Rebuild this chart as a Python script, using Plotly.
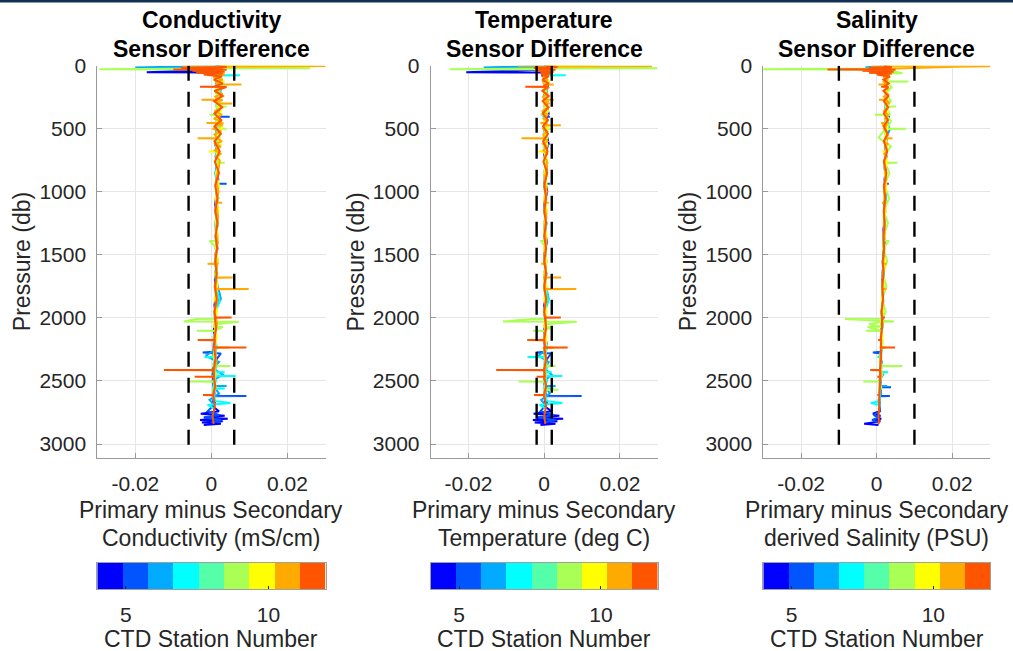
import plotly.graph_objects as go

# ---------------- data ----------------
STATIONS = [4, 5, 6, 7, 8, 9, 10, 11, 12]
STATION_COLORS = ["#0000FF", "#0055FF", "#00AAFF", "#00FFFF", "#55FFAA",
                  "#AAFF55", "#FFFF00", "#FFAA00", "#FF5500"]
CBAR_RANGE = [4, 12]
CBAR_TICKS = [5, 10]

# pressure (db) per station, and primary-minus-secondary differences
P4 = [0, 10, 30, 52, 54, 80, 120, 170, 230, 300, 380, 460, 540, 620, 700, 800, 900, 1000, 1100, 1200,
      1300, 1400, 1500, 1600, 1700, 1800, 1900, 2000, 2100, 2200, 2300, 2400, 2500, 2600, 2700, 2740,
      2760, 2775, 2790, 2800, 2810, 2820, 2830, 2840, 2850]
C4 = [0.002, 0.001, 0.002, -0.017, 0.001, 0.002, 0.0012, 0.002, 0.0025, 0.0015, 0.002, 0.0012, 0.0018,
      0.001, 0.0016, 0.0012, 0.0018, 0.0014, 0.001, 0.0016, 0.0012, 0.0015, 0.0011, 0.0014, 0.0009,
      0.0013, 0.0008, 0.0012, 0.0006, 0.001, 0.0005, 0.0009, 0.0004, 0.0008, 0.0003, 0.002, -0.0028,
      0.0035, -0.002, 0.0043, -0.003, 0.003, -0.0025, 0.0025, -0.002]
T4 = [0.0005, 0.0, 0.001, -0.0206, 0.0005, -0.0005, 0.0008, 0.001, 0.0, 0.0006, 0.0012, 0.0, 0.0005,
      0.0012, 0.0, 0.0006, 0.0003, 0.0008, 0.0, 0.0005, 0.0002, 0.0007, 0.0, 0.0005, 0.0002, 0.0006,
      0.0, 0.0004, 0.0, 0.0006, 0.0001, 0.0005, 0.0, 0.0004, 0.0, 0.002, -0.0028, 0.004, -0.002, 0.005,
      -0.003, 0.0035, -0.0025, 0.003, -0.001]
S4 = [0.002, 0.0025, 0.003, 0.001, 0.0025, 0.003, 0.0025, 0.0028, 0.0024, 0.0027, 0.0023, 0.0028, 0.0024,
      0.0026, 0.0022, 0.0025, 0.0021, 0.0024, 0.002, 0.0022, 0.0018, 0.0021, 0.0017, 0.0019, 0.0015,
      0.0018, 0.0014, 0.0016, 0.0012, 0.0014, 0.001, 0.0012, 0.0008, 0.001, 0.0006, 0.0008, -0.001,
      0.001, 0.0, 0.0012, -0.0005, 0.001, -0.001, -0.0033, 0.0005]

P5 = [0, 6, 20, 45, 75, 110, 160, 210, 270, 330, 403, 405, 407, 480, 560, 640, 720, 810, 935, 937, 939,
      1050, 1150, 1250, 1350, 1450, 1550, 1650, 1750, 1850, 1950, 2050, 2150, 2268, 2275, 2282, 2350,
      2450, 2548, 2550, 2552, 2617, 2619, 2621, 2680, 2740, 2770, 2790, 2810, 2830]
C5 = [0.001, 0.002, 0.0015, 0.0025, 0.001, 0.002, 0.0012, 0.0022, 0.0014, 0.0021, 0.0015, 0.0048, 0.0015,
      0.0022, 0.0012, 0.0019, 0.0011, 0.0017, 0.0012, 0.004, 0.0012, 0.0018, 0.001, 0.0017, 0.0011,
      0.0016, 0.001, 0.0015, 0.0009, 0.0018, 0.0008, 0.0014, 0.0007, 0.0005, -0.0023, 0.0025, 0.0008,
      0.0003, 0.0006, 0.0012, 0.0006, 0.0005, 0.0092, 0.0005, 0.001, -0.001, 0.002, -0.0018, 0.0025, 0.0]
T5 = [0.0, 0.0008, 0.0, 0.001, 0.0, 0.0006, 0.0, 0.0007, 0.0001, 0.0006, 0.0, 0.0015, 0.0, 0.0006, 0.0,
      0.0005, 0.0001, 0.0007, 0.0, 0.0015, 0.0, 0.0005, 0.0, 0.0006, 0.0001, 0.0005, 0.0, 0.0006, 0.0,
      0.0007, 0.0, 0.0005, 0.0, 0.0002, -0.002, 0.0018, 0.0002, 0.0, 0.0002, 0.0008, 0.0001, 0.0, 0.0099,
      0.0, 0.0008, -0.001, 0.0025, -0.0015, 0.003, 0.0]
S5 = [0.002, 0.0022, 0.0028, 0.0024, 0.0029, 0.0023, 0.0027, 0.0024, 0.0028, 0.0023, 0.0026, 0.0035,
      0.0025, 0.0022, 0.0027, 0.0023, 0.0026, 0.0021, 0.0025, 0.0032, 0.0023, 0.0021, 0.0023, 0.0019,
      0.0021, 0.0017, 0.0019, 0.0015, 0.0018, 0.0014, 0.0016, 0.0012, 0.0014, 0.0011, -0.001, 0.0012,
      0.001, 0.0012, 0.001, 0.0038, 0.001, 0.0011, 0.0035, 0.0009, 0.0007, 0.0009, -0.0008, 0.0006,
      -0.0012, 0.0004]

P6 = [0, 15, 17, 35, 60, 95, 140, 190, 250, 310, 370, 440, 510, 590, 670, 760, 850, 950, 1050, 1150,
      1250, 1350, 1450, 1550, 1650, 1750, 1850, 1950, 2050, 2150, 2250, 2300, 2350, 2400, 2450, 2500,
      2538, 2540, 2542, 2600, 2650, 2700]
C6 = [0.002, -0.020, 0.0015, 0.0025, 0.001, 0.002, 0.0012, 0.0025, 0.0015, 0.0022, 0.001, 0.0025, 0.0012,
      0.002, 0.0012, 0.0018, 0.001, 0.0017, 0.0012, 0.0018, 0.001, 0.0016, 0.0011, 0.0017, 0.0009,
      0.0016, 0.0025, 0.0008, 0.0014, 0.0006, 0.0012, -0.0015, 0.002, 0.0004, 0.003, 0.0002, 0.0008,
      0.004, 0.0006, 0.002, -0.0005, 0.001]
T6 = [0.0005, -0.016, 0.0005, 0.0008, 0.0, 0.0006, 0.0, 0.0008, 0.0001, 0.0007, -0.0003, 0.0006, 0.0,
      0.0007, 0.0001, 0.0006, 0.0, 0.0005, 0.0001, 0.0006, 0.0, 0.0005, 0.0001, 0.0006, 0.0, 0.0005,
      0.0012, 0.0, 0.0005, 0.0, 0.0006, -0.0015, 0.0012, 0.0, 0.002, 0.0, 0.0004, 0.003, 0.0002, 0.0015,
      -0.0008, 0.0005]
S6 = [0.0018, -0.003, 0.0025, 0.0028, 0.0022, 0.0027, 0.0024, 0.0029, 0.0023, 0.0027, 0.0022, 0.0028,
      0.0034, 0.0024, 0.0026, 0.0021, 0.0025, 0.0021, 0.0024, 0.0019, 0.0022, 0.0018, 0.002, 0.0016,
      0.0019, 0.0015, 0.0017, 0.0013, 0.0016, 0.0011, 0.0014, 0.0008, 0.0014, 0.0009, 0.0017, 0.0007,
      0.001, 0.0028, 0.0009, 0.0012, 0.0005, 0.0008]

P7 = [0, 8, 40, 73, 75, 77, 110, 150, 200, 260, 320, 390, 460, 530, 610, 690, 780, 870, 970, 1070, 1170,
      1270, 1370, 1470, 1570, 1670, 1770, 1870, 1970, 2070, 2170, 2230, 2308, 2310, 2312, 2380, 2428,
      2430, 2432, 2458, 2460, 2462, 2500, 2558, 2560, 2562, 2620, 2660, 2675, 2690, 2720]
C7 = [0.0015, 0.002, 0.0025, 0.0015, 0.0075, 0.0015, 0.002, 0.0012, 0.0024, 0.0015, 0.0022, 0.0013,
      0.0021, 0.0012, 0.0019, 0.0011, 0.0017, 0.0011, 0.0018, 0.0012, 0.0017, 0.001, 0.0016, 0.0012,
      0.0015, 0.001, 0.0014, 0.0022, 0.0008, 0.0013, 0.0006, 0.0015, 0.0007, -0.0018, 0.0007, 0.0015,
      0.0006, 0.0035, 0.0007, 0.0008, 0.0064, 0.0005, 0.0012, 0.0006, 0.0035, 0.0005, 0.0003, 0.0012,
      0.005, -0.001, 0.0008]
T7 = [0.0003, 0.0008, 0.001, 0.0, 0.0057, 0.0, 0.0006, 0.0, 0.0007, 0.0001, 0.0006, -0.0004, 0.0006, 0.0,
      0.0007, 0.0001, 0.0006, 0.0, 0.0005, 0.0001, 0.0006, 0.0, 0.0005, 0.0001, 0.0005, 0.0, 0.0006,
      0.0011, 0.0, 0.0005, 0.0, 0.0008, 0.0, -0.0044, 0.0, 0.001, 0.0, 0.002, 0.0, 0.0002, 0.0048, 0.0,
      0.0008, 0.0, 0.0025, 0.0, 0.0, 0.0008, 0.0048, -0.0012, 0.0004]
S7 = [0.0015, 0.0025, 0.0029, 0.0024, 0.0035, 0.0026, 0.0023, 0.0028, 0.0024, 0.0028, 0.0023, 0.0027,
      0.0022, 0.0027, 0.0023, 0.0025, 0.0021, 0.0025, 0.002, 0.0023, 0.0019, 0.0022, 0.0018, 0.002,
      0.0016, 0.0019, 0.0015, 0.0018, 0.0013, 0.0016, 0.0011, 0.0014, 0.001, 0.0002, 0.001, 0.0012,
      0.0009, 0.003, 0.0009, 0.0009, 0.0012, 0.0008, 0.001, 0.0008, 0.0014, 0.0008, 0.0007, 0.0009,
      -0.0015, 0.0008, 0.0005]

P8 = [0, 12, 35, 65, 100, 145, 195, 255, 315, 385, 455, 525, 605, 685, 775, 865, 965, 1065, 1165, 1265,
      1365, 1465, 1565, 1665, 1765, 1865, 1965, 2065, 2165, 2265, 2365, 2465, 2565, 2650]
C8 = [0.002, 0.005, 0.001, 0.0022, 0.0012, 0.0024, 0.0013, 0.0022, 0.0012, 0.002, 0.0011, 0.0021, 0.0012,
      0.0018, 0.0011, 0.0017, 0.0011, 0.0016, 0.001, 0.0016, 0.0011, 0.0015, 0.0009, 0.0015, 0.0009,
      0.0014, 0.0007, 0.0013, 0.0006, 0.0012, 0.0005, 0.0011, 0.0004, 0.0009]
T8 = [0.0005, 0.004, 0.0, 0.0007, -0.0002, 0.0007, 0.0, 0.0006, 0.0, 0.0006, 0.0001, 0.0006, 0.0, 0.0005,
      0.0001, 0.0006, 0.0, 0.0005, 0.0001, 0.0005, 0.0, 0.0005, 0.0001, 0.0005, 0.0, 0.0005, 0.0001,
      0.0005, 0.0, 0.0005, 0.0, 0.0005, 0.0, 0.0004]
S8 = [0.002, 0.004, 0.0025, 0.0029, 0.0023, 0.0028, 0.0024, 0.0028, 0.0023, 0.0027, 0.0023, 0.0026,
      0.0022, 0.0025, 0.0021, 0.0024, 0.002, 0.0023, 0.0019, 0.0022, 0.0018, 0.002, 0.0016, 0.0019,
      0.0015, 0.0017, 0.0013, 0.0015, 0.0011, 0.0013, 0.0009, 0.0011, 0.0007, 0.0008]

P9 = [0, 20, 22, 28, 30, 45, 60, 62, 90, 123, 125, 127, 170, 220, 280, 321, 323, 325, 387, 389, 391, 440,
      498, 500, 502, 570, 640, 700, 768, 770, 772, 850, 950, 1050, 1150, 1250, 1350, 1388, 1390, 1450,
      1550, 1650, 1750, 1850, 1950, 2006, 2008, 2029, 2031, 2050, 2070, 2072, 2100, 2102, 2104, 2200,
      2300, 2379, 2381, 2383, 2450, 2503, 2505, 2507, 2550, 2568, 2570, 2572, 2600]
C9 = [0.002, 0.026, 0.001, -0.0295, 0.002, 0.001, 0.0025, 0.001, 0.002, 0.0012, 0.0035, 0.0014, 0.0025,
      0.0012, 0.0024, 0.0015, 0.004, 0.0013, 0.002, -0.0005, 0.0018, 0.0013, 0.0022, 0.004, 0.0015,
      0.0022, 0.0012, 0.0021, 0.0013, 0.0035, 0.0015, 0.0018, 0.0011, 0.0018, 0.001, 0.0017, 0.0011,
      0.0012, -0.0005, 0.0015, 0.001, 0.0016, 0.0009, 0.0015, 0.0008, 0.0012, -0.004, -0.0072, 0.0072,
      0.001, 0.0004, 0.003, 0.0008, -0.0038, 0.001, 0.0012, 0.0005, 0.0012, 0.005, 0.0008, 0.0012,
      0.0006, -0.006, 0.0008, 0.0012, 0.0008, 0.0012, 0.0008, 0.0004]
T9 = [0.0005, 0.03, 0.0, -0.025, 0.0005, 0.0, 0.001, 0.0, 0.0006, 0.0, 0.0015, 0.0, 0.0008, 0.0, 0.0007,
      0.0, 0.0015, 0.0, 0.0006, -0.001, 0.0005, 0.0, 0.0006, 0.0015, 0.0, 0.0008, -0.0002, 0.0007, 0.0,
      0.0012, 0.0, 0.0006, 0.0, 0.0006, 0.0, 0.0005, 0.0, 0.0003, -0.0008, 0.0005, 0.0, 0.0005, 0.0,
      0.0005, 0.0, 0.0004, -0.003, -0.0109, 0.0086, 0.0003, 0.0, 0.002, 0.0, -0.003, 0.0003, 0.0005,
      0.0, 0.0004, 0.003, 0.0, 0.0005, 0.0, -0.0068, 0.0, 0.0005, 0.0, 0.0038, 0.0, 0.0005]
S9 = [0.002, 0.003, 0.0025, -0.031, 0.002, 0.004, 0.0068, 0.0025, 0.0035, 0.0025, 0.0084, 0.0026, 0.004,
      0.0024, 0.0038, 0.0024, 0.0051, 0.0025, 0.0035, -0.0005, 0.0025, 0.0038, 0.0026, 0.0078, 0.0024,
      0.0005, 0.0038, 0.0022, 0.0024, 0.0055, 0.0023, 0.0034, 0.0021, 0.0033, 0.0019, 0.003, 0.0018,
      0.002, 0.0032, 0.0018, 0.0028, 0.0016, 0.0026, 0.0014, 0.0024, 0.0015, -0.0084, 0.0046, 0.0012,
      -0.002, 0.0013, -0.0024, 0.0012, -0.0028, 0.0013, 0.0016, 0.0009, 0.0011, 0.0068, 0.001, 0.0015,
      0.0008, -0.0035, 0.0008, 0.0012, 0.0009, 0.0011, 0.0008, 0.0006]

P10 = [0, 5, 7, 40, 80, 130, 180, 240, 300, 360, 420, 490, 560, 630, 678, 680, 682, 760, 850, 950, 1050,
       1150, 1250, 1350, 1450, 1550, 1650, 1750, 1850, 1950, 2050, 2150, 2250, 2300]
C10 = [0.002, 0.027, 0.0015, 0.0025, 0.0012, 0.003, 0.0012, 0.0028, 0.0015, 0.0025, 0.0012, 0.0028,
       0.0014, 0.0024, 0.0015, -0.0007, 0.0014, 0.0021, 0.0012, 0.002, 0.0011, 0.0019, 0.0011, 0.0017,
       0.0012, 0.0017, 0.001, 0.0016, 0.0009, 0.0015, 0.0008, 0.0014, 0.0007, 0.001]
T10 = [0.0005, 0.014, 0.0003, 0.001, 0.0, 0.0012, 0.0, 0.001, 0.0, 0.0011, 0.0, 0.001, 0.0, 0.0009, 0.0,
       -0.0015, 0.0, 0.0008, 0.0, 0.0007, 0.0, 0.0007, 0.0, 0.0006, 0.0, 0.0006, 0.0, 0.0006, 0.0, 0.0006,
       0.0, 0.0006, 0.0, 0.0004]
S10 = [0.002, 0.012, 0.0025, 0.0032, 0.0024, 0.003, 0.0023, 0.0031, 0.0024, 0.003, 0.0023, 0.0029,
       0.0022, 0.0028, 0.0023, 0.0015, 0.0023, 0.0027, 0.0021, 0.0026, 0.002, 0.0024, 0.0019, 0.0022,
       0.0017, 0.0021, 0.0016, 0.0019, 0.0014, 0.0017, 0.0012, 0.0015, 0.0011, 0.0012]

P11 = [0, 3, 8, 25, 50, 70, 90, 110, 128, 148, 150, 152, 175, 200, 225, 245, 268, 270, 272, 285, 298, 300,
       302, 330, 360, 390, 420, 440, 453, 455, 457, 471, 473, 475, 500, 520, 545, 573, 575, 577, 600,
       620, 640, 670, 700, 720, 750, 800, 900, 1000, 1085, 1087, 1089, 1200, 1300, 1400, 1500, 1569,
       1571, 1573, 1620, 1678, 1680, 1682, 1768, 1770, 1772, 1850, 1950, 2050, 2150, 2233, 2235, 2237,
       2350, 2450, 2550, 2600]
C11 = [-0.0075, 0.031, 0.002, 0.003, 0.0015, 0.0035, 0.0005, 0.003, 0.001, 0.0018, 0.0079, 0.0018,
       0.0032, 0.0008, 0.003, 0.001, 0.0015, -0.0026, 0.003, 0.001, 0.0018, 0.0055, 0.0016, 0.003,
       0.0008, 0.0028, 0.0006, 0.0025, 0.002, -0.0013, 0.0032, 0.0015, 0.003, 0.0014, 0.0005, 0.0026,
       0.0008, 0.0015, -0.0036, 0.0015, 0.0028, 0.0008, 0.0025, 0.0009, 0.0024, 0.0012, 0.0022, 0.002,
       0.0012, 0.0019, 0.0012, 0.0028, 0.0012, 0.0018, 0.0011, 0.0017, 0.0011, 0.0014, -0.001, 0.0016,
       0.0012, 0.0013, 0.0056, 0.0012, 0.0012, 0.0098, 0.0011, 0.0016, 0.0009, 0.0015, 0.0008, 0.001,
       0.0048, 0.0009, 0.0013, 0.0006, 0.0011, 0.0005]
T11 = [-0.007, 0.0285, 0.0005, 0.001, 0.0, 0.0012, -0.0004, 0.001, -0.0003, 0.0, 0.0025, 0.0, 0.0011,
       -0.0004, 0.001, -0.0003, 0.0, 0.0026, 0.0, 0.0009, 0.0005, 0.0015, 0.0, 0.001, -0.0004, 0.0009,
       -0.0002, 0.0008, 0.0005, -0.001, 0.0008, 0.0002, 0.0044, 0.0, -0.0003, 0.0008, -0.0002, 0.0,
       -0.006, 0.0, 0.0009, -0.0003, 0.0007, -0.0002, 0.0008, 0.0, 0.0007, 0.0008,
       0.0, 0.0007, 0.0, 0.0012, 0.0, 0.0006, 0.0, 0.0006, 0.0, 0.0003, -0.0008, 0.0003, 0.0005, 0.0,
       0.0045, 0.0, 0.0003, 0.0085, 0.0, 0.0006, 0.0, 0.0005, 0.0, 0.0003, 0.0025, 0.0, 0.0005, 0.0,
       0.0005, 0.0]
S11 = [-0.0015, 0.031, 0.021, 0.003, 0.0024, 0.0032, 0.0018, 0.003, 0.0019, 0.0028, 0.0005, 0.0027,
       0.0031, 0.002, 0.003, 0.0019, 0.0028, 0.0006, 0.0026, 0.0031, 0.0022, 0.0035, 0.0024, 0.0031,
       0.0019, 0.003, 0.0022, 0.0029, 0.0026, 0.0012, 0.0025, 0.0026, 0.0014, 0.0026, 0.0019, 0.0023,
       0.003, 0.0026, 0.0042, 0.0025, 0.0019, 0.0029, 0.0022, 0.0028, 0.002, 0.0026, 0.0021, 0.0021,
       0.0025, 0.002, 0.0023, 0.0014, 0.0022, 0.0019, 0.0022, 0.0018, 0.002, 0.0017, 0.0026, 0.0017,
       0.0019, 0.0016, 0.0012, 0.0016, 0.0015, 0.0026, 0.0015, 0.0017, 0.0013, 0.0016, 0.0011, 0.0012,
       0.0025, 0.0012, 0.0009, 0.0012, 0.0007, 0.0009]

P12 = [0, 10, 18, 25, 30, 33, 40, 48, 55, 62, 70, 85, 110, 140, 165, 167, 169, 200, 240, 280, 330, 380,
       430, 480, 540, 600, 680, 760, 850, 950, 1050, 1150, 1250, 1350, 1450, 1550, 1650, 1750, 1850,
       1950, 1995, 1997, 1999, 2080, 2173, 2175, 2177, 2233, 2235, 2237, 2320, 2411, 2413, 2415, 2464,
       2466, 2468, 2540, 2609, 2611, 2613, 2700, 2780, 2840]
C12 = [0.002, 0.004, -0.008, 0.003, -0.010, 0.004, -0.005, 0.0035, -0.004, 0.003, -0.002, 0.0028, 0.0006,
       0.003, 0.0008, -0.003, 0.004, 0.0008, 0.003, 0.0007, 0.0028, 0.0008, 0.0026, 0.0008, 0.0025,
       0.0008, 0.0022, 0.0009, 0.002, 0.001, 0.0016, 0.001, 0.0016, 0.0011, 0.0015, 0.001, 0.0014,
       0.0009, 0.0014, 0.0008, 0.001, 0.0053, 0.0009, 0.0012, 0.0008, -0.0036, 0.0009, 0.0007, 0.0092,
       0.0007, 0.0011, 0.0006, -0.0125, 0.0006, 0.0007, -0.0044, 0.0006, 0.001, 0.0005, -0.0022, 0.0005,
       0.0009, 0.0003, 0.0006]
T12 = [0.0005, 0.0035, -0.0027, 0.002, -0.002, 0.003, -0.0015, 0.0025, -0.001, 0.002, -0.0008, 0.0012,
       -0.0005, 0.0012, -0.0003, -0.005, 0.001, -0.0005, 0.0012, -0.0004, 0.0011, -0.0004, 0.001, -0.0003,
       0.001, -0.0003, 0.0009, -0.0002, 0.0008, 0.0, 0.0005, 0.0, 0.0005, 0.0, 0.0005, 0.0, 0.0005, 0.0,
       0.0005, 0.0, 0.0002, 0.0044, 0.0002, 0.0005, 0.0, -0.0045, 0.0, 0.0002, 0.0062, 0.0, 0.0005, 0.0,
       -0.0127, 0.0, 0.0002, -0.002, 0.0, 0.0005, 0.0, -0.0027, 0.0, 0.0005, 0.0, 0.0003]
S12 = [0.002, 0.004, -0.002, 0.004, -0.013, 0.005, -0.0038, 0.0045, -0.002, 0.004, 0.0, 0.0035, 0.0018,
       0.0032, 0.0019, 0.0012, 0.0031, 0.0018, 0.0031, 0.0019, 0.003, 0.0019, 0.003, 0.0019, 0.0029,
       0.0019, 0.0028, 0.0019, 0.0026, 0.0019, 0.0023, 0.0019, 0.0021, 0.0018, 0.002, 0.0016, 0.0018,
       0.0015, 0.0017, 0.0013, 0.0014, 0.0022, 0.0014, 0.0014, 0.0011, 0.0004, 0.0012, 0.0011, 0.0049,
       0.0011, 0.0012, 0.0009, -0.0017, 0.0009, 0.0009, 0.0002, 0.0009, 0.0009, 0.0007, 0.0002, 0.0007,
       0.0007, 0.0005, 0.0006]

PRESSURE = [P4, P5, P6, P7, P8, P9, P10, P11, P12]
COND_DIFF = [C4, C5, C6, C7, C8, C9, C10, C11, C12]
TEMP_DIFF = [T4, T5, T6, T7, T8, T9, T10, T11, T12]
SAL_DIFF = [S4, S5, S6, S7, S8, S9, S10, S11, S12]

PANEL_TITLES = [["Conductivity", "Sensor Difference"],
                ["Temperature", "Sensor Difference"],
                ["Salinity", "Sensor Difference"]]
XLABELS = [["Primary minus Secondary", "Conductivity (mS/cm)"],
           ["Primary minus Secondary", "Temperature (deg C)"],
           ["Primary minus Secondary", "derived Salinity (PSU)"]]
LIMITS = [0.006, 0.002, 0.01]          # dashed threshold lines (+/-)
LIMIT_PRESSURE = [0, 3055]
X_TICKS = [-0.02, 0, 0.02]
X_TICKTEXT = ["-0.02", "0", "0.02"]
X_RANGE = [-0.03, 0.03]
Y_TICKS = [0, 500, 1000, 1500, 2000, 2500, 3000]
Y_RANGE = [3111, 0]

for i in range(len(STATIONS)):
    n = len(PRESSURE[i])
    assert len(COND_DIFF[i]) == n and len(TEMP_DIFF[i]) == n and len(SAL_DIFF[i]) == n, STATIONS[i]

# ---------------- layout helpers ----------------
W, H = 1013, 651
def fx(px):
    return px / W
def fy(py):
    return 1 - py / H

FONT = "Liberation Sans, Arial, Helvetica, sans-serif"
TXT = "#262626"
X_DOMAINS = [[97.3, 325.5], [430.7, 657.7], [763.3, 990.0]]
PLOT_TOP, PLOT_BOT = 65.7, 458.0
CB_TOP, CB_BOT = 563.0, 589.0

fig = go.Figure()
panels = [COND_DIFF, TEMP_DIFF, SAL_DIFF]

for k in range(3):
    xa = "x" if k == 0 else f"x{k + 1}"
    ya = "y" if k == 0 else f"y{k + 1}"
    for i, st in enumerate(STATIONS):
        fig.add_trace(go.Scatter(
            x=panels[k][i], y=PRESSURE[i], mode="lines",
            line=dict(color=STATION_COLORS[i], width=2),
            xaxis=xa, yaxis=ya, showlegend=False, hoverinfo="skip"))
    lim = LIMITS[k]
    fig.add_trace(go.Scatter(
        x=[-lim, -lim, None, lim, lim],
        y=[LIMIT_PRESSURE[0], LIMIT_PRESSURE[1], None, LIMIT_PRESSURE[0], LIMIT_PRESSURE[1]],
        mode="lines", line=dict(color="black", width=2.4, dash="15px,11px"),
        xaxis=xa, yaxis=ya, showlegend=False, hoverinfo="skip"))

# colorbars as heatmaps in their own axes
n_st = len(STATIONS)
edges = [CBAR_RANGE[0] + (CBAR_RANGE[1] - CBAR_RANGE[0]) * j / n_st for j in range(n_st + 1)]
cscale = []
for i, c in enumerate(STATION_COLORS):
    cscale.append([i / n_st, c])
    cscale.append([(i + 1) / n_st, c])
for k in range(3):
    fig.add_trace(go.Heatmap(
        x=edges, y=[0, 1], z=[STATIONS], colorscale=cscale,
        zmin=STATIONS[0] - 0.5, zmax=STATIONS[-1] + 0.5, showscale=False,
        xaxis=f"x{k + 4}", yaxis=f"y{k + 4}", hoverinfo="skip"))

layout = dict(
    width=W, height=H, margin=dict(l=0, r=0, t=0, b=0, autoexpand=False),
    paper_bgcolor="white", plot_bgcolor="white",
    font=dict(family=FONT, size=21, color=TXT),
    showlegend=False,
)

axis_common = dict(showline=True, linecolor="#9a9a9a", linewidth=1, mirror=False,
                   showgrid=True, gridcolor="#e6e6e6", gridwidth=1, zeroline=False,
                   ticks="inside", ticklen=5, tickcolor="#9a9a9a", automargin=False,
                   tickfont=dict(family=FONT, size=21, color=TXT))
for k in range(3):
    sx = "xaxis" if k == 0 else f"xaxis{k + 1}"
    sy = "yaxis" if k == 0 else f"yaxis{k + 1}"
    yname = "y" if k == 0 else f"y{k + 1}"
    xname = "x" if k == 0 else f"x{k + 1}"
    layout[sx] = dict(axis_common, domain=[fx(X_DOMAINS[k][0]), fx(X_DOMAINS[k][1])],
                      range=X_RANGE, tickvals=X_TICKS, ticktext=X_TICKTEXT,
                      anchor=yname, ticklabelstandoff=7)
    layout[sy] = dict(axis_common, domain=[fy(PLOT_BOT), fy(PLOT_TOP)],
                      range=Y_RANGE, tickvals=Y_TICKS, anchor=xname,
                      ticklabelstandoff=6)
    # colorbar axes
    layout[f"xaxis{k + 4}"] = dict(domain=[fx(X_DOMAINS[k][0]), fx(X_DOMAINS[k][1])],
                                   range=CBAR_RANGE, tickvals=CBAR_TICKS, anchor=f"y{k + 4}",
                                   showline=True, mirror=True, linecolor="#a0a0a0", linewidth=1,
                                   showgrid=False, zeroline=False, ticks="inside", ticklen=3,
                                   tickcolor="#262626", ticklabelstandoff=7, automargin=False,
                                   tickfont=dict(family=FONT, size=21, color=TXT))
    layout[f"yaxis{k + 4}"] = dict(domain=[fy(CB_BOT), fy(CB_TOP)], range=[0, 1],
                                   anchor=f"x{k + 4}", showline=True, mirror=True,
                                   linecolor="#a0a0a0", linewidth=1, showgrid=False,
                                   zeroline=False, showticklabels=False, ticks="",
                                   automargin=False)

fig.update_layout(**layout)

ann = []
for k in range(3):
    cx = fx((X_DOMAINS[k][0] + X_DOMAINS[k][1]) / 2)
    ann.append(dict(text=f"<b>{PANEL_TITLES[k][0]}</b>", x=cx, y=fy(20), xref="paper", yref="paper",
                    showarrow=False, xanchor="center", yanchor="middle",
                    font=dict(family=FONT, size=23, color="black")))
    ann.append(dict(text=f"<b>{PANEL_TITLES[k][1]}</b>", x=cx, y=fy(49), xref="paper", yref="paper",
                    showarrow=False, xanchor="center", yanchor="middle",
                    font=dict(family=FONT, size=23, color="black")))
    ann.append(dict(text=XLABELS[k][0], x=cx, y=fy(510), xref="paper", yref="paper",
                    showarrow=False, xanchor="center", yanchor="middle",
                    font=dict(family=FONT, size=23, color=TXT)))
    ann.append(dict(text=XLABELS[k][1], x=cx, y=fy(538), xref="paper", yref="paper",
                    showarrow=False, xanchor="center", yanchor="middle",
                    font=dict(family=FONT, size=23, color=TXT)))
    ann.append(dict(text="CTD Station Number", x=cx, y=fy(639), xref="paper", yref="paper",
                    showarrow=False, xanchor="center", yanchor="middle",
                    font=dict(family=FONT, size=23, color=TXT)))
    ann.append(dict(text="Pressure (db)", x=fx(X_DOMAINS[k][0] - 75), y=fy((PLOT_TOP + PLOT_BOT) / 2),
                    xref="paper", yref="paper", showarrow=False, textangle=-90,
                    xanchor="center", yanchor="middle",
                    font=dict(family=FONT, size=23, color=TXT)))
fig.update_layout(annotations=ann)

# thin dark strip at the very top of the screenshot
fig.add_shape(type="rect", xref="paper", yref="paper", x0=0, x1=1, y0=fy(2.5), y1=1,
              fillcolor="#12304f", line=dict(width=0), layer="above")

fig.write_html("out.html", config={"displayModeBar": False})
